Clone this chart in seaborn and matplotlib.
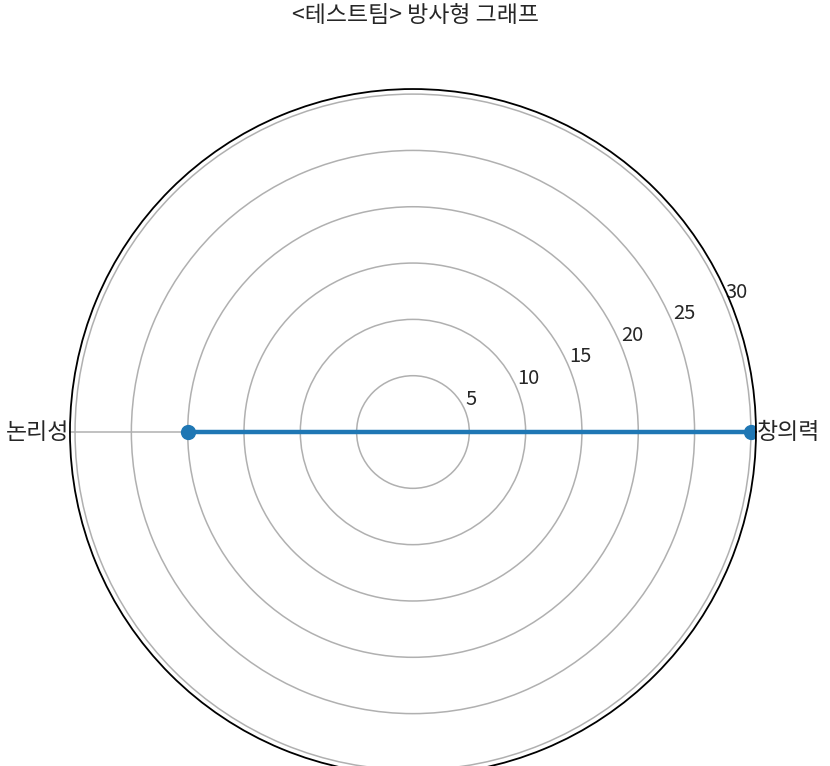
import numpy as np
import pandas as pd
import matplotlib
matplotlib.use("Agg")
import matplotlib.pyplot as plt
import seaborn as sns

# data
categories = ["창의력", "논리성"]
scores = [30, 20]
r_ticks = [5, 10, 15, 20, 25, 30]
title = "<테스트팀> 방사형 그래프"

sns.set_style("white")
plt.rcParams["font.family"] = ["Noto Sans CJK KR", "DejaVu Sans"]
plt.rcParams["font.size"] = 14

# close the polygon
angles = np.linspace(0, 2 * np.pi, len(categories), endpoint=False)
df = pd.DataFrame({
    "angle": np.append(angles, angles[0]),
    "score": scores + scores[:1],
})

fig = plt.figure(figsize=(8.3, 7.66), dpi=100)
ax = fig.add_axes([0.0843, -0.0118, 0.8265, 0.8956], projection="polar")

sns.lineplot(data=df, x="angle", y="score", ax=ax, sort=False,
             marker="o", markersize=11, markeredgewidth=0,
             linewidth=3.2, color="#1f77b4")

ax.set_thetagrids(np.degrees(angles), categories, fontsize=16.5)
ax.tick_params(axis="x", pad=13)
ax.set_ylim(0, 30.45)
ax.set_yticks(r_ticks)
ax.set_yticklabels([str(t) for t in r_ticks], fontsize=14.5)
ax.set_rlabel_position(22.5)
ax.grid(True, color="#b0b0b0", linewidth=1.1)
ax.spines["polar"].set_color("black")
ax.spines["polar"].set_linewidth(1.3)
ax.set_xlabel("")
ax.set_ylabel("")

fig.text(0.5, 1 - 15 / 766, title, ha="center", va="center", fontsize=16.5)

fig.savefig("out.png", dpi=100)
